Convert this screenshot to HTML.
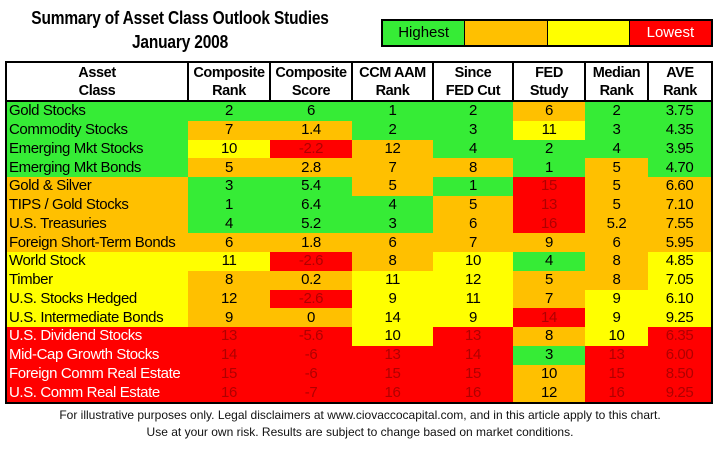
<!DOCTYPE html>
<html><head><style>
body{margin:0;width:720px;height:450px;background:#fff;font-family:"Liberation Sans",Arial,sans-serif;position:relative;overflow:hidden}
.t{position:absolute;font-weight:bold;font-size:18px;text-align:center;left:-20px;width:400px;white-space:nowrap;transform:scaleX(0.86);letter-spacing:-0.2px}
#leg{position:absolute;left:381px;top:19px;width:328px;height:24px;border:2px solid #000;display:flex}
#leg div{flex:1;font-size:15px;line-height:24px;text-align:center}
table{position:absolute;left:5px;top:61px;border-collapse:collapse;table-layout:fixed;border:2px solid #000}
td,th{padding:0;text-align:center;font-size:15px;letter-spacing:-0.4px;height:18.75px;line-height:18px}
th{background:#fff;font-weight:bold;height:37px;line-height:18px;border-left:2px solid #000;border-bottom:2px solid #000;font-size:14.5px}
th:first-child{border-left:none}
td:first-child{text-align:left;padding-left:2px}
.G{background:#36ec36}.O{background:#ffc000}.Y{background:#ffff00}.R{background:#ff0000;color:#b00000}
td.n.R{color:#fff}
.f{position:absolute;width:720px;text-align:center;font-size:12px;color:#111}
</style></head><body>
<div class="t" style="top:8px">Summary of Asset Class Outlook Studies</div>
<div class="t" style="top:32px">January 2008</div>
<div id="leg"><div style="background:#36ec36;border-right:1px solid #000">Highest</div><div style="background:#ffc000;border-right:1px solid #000"></div><div style="background:#ffff00;border-right:1px solid #000"></div><div style="background:#ff0000;color:#fff">Lowest</div></div>
<table>
<colgroup><col style="width:182px"><col style="width:82px"><col style="width:82px"><col style="width:81px"><col style="width:80px"><col style="width:72px"><col style="width:63px"><col style="width:64px"></colgroup>
<tr><th>Asset<br>Class</th><th>Composite<br>Rank</th><th>Composite<br>Score</th><th>CCM AAM<br>Rank</th><th>Since<br>FED Cut</th><th>FED<br>Study</th><th>Median<br>Rank</th><th>AVE<br>Rank</th></tr>
<tr><td class="n G">Gold Stocks</td><td class="G">2</td><td class="G">6</td><td class="G">1</td><td class="G">2</td><td class="O">6</td><td class="G">2</td><td class="G">3.75</td></tr>
<tr><td class="n G">Commodity Stocks</td><td class="O">7</td><td class="O">1.4</td><td class="G">2</td><td class="G">3</td><td class="Y">11</td><td class="G">3</td><td class="G">4.35</td></tr>
<tr><td class="n G">Emerging Mkt Stocks</td><td class="Y">10</td><td class="R">-2.2</td><td class="O">12</td><td class="G">4</td><td class="G">2</td><td class="G">4</td><td class="G">3.95</td></tr>
<tr><td class="n G">Emerging Mkt Bonds</td><td class="O">5</td><td class="O">2.8</td><td class="O">7</td><td class="O">8</td><td class="G">1</td><td class="O">5</td><td class="G">4.70</td></tr>
<tr><td class="n O">Gold &amp; Silver</td><td class="G">3</td><td class="G">5.4</td><td class="O">5</td><td class="G">1</td><td class="R">15</td><td class="O">5</td><td class="O">6.60</td></tr>
<tr><td class="n O">TIPS / Gold Stocks</td><td class="G">1</td><td class="G">6.4</td><td class="G">4</td><td class="O">5</td><td class="R">13</td><td class="O">5</td><td class="O">7.10</td></tr>
<tr><td class="n O">U.S. Treasuries</td><td class="G">4</td><td class="G">5.2</td><td class="G">3</td><td class="O">6</td><td class="R">16</td><td class="O">5.2</td><td class="O">7.55</td></tr>
<tr><td class="n O">Foreign Short-Term Bonds</td><td class="O">6</td><td class="O">1.8</td><td class="O">6</td><td class="O">7</td><td class="O">9</td><td class="O">6</td><td class="O">5.95</td></tr>
<tr><td class="n Y">World Stock</td><td class="Y">11</td><td class="R">-2.6</td><td class="O">8</td><td class="Y">10</td><td class="G">4</td><td class="O">8</td><td class="Y">4.85</td></tr>
<tr><td class="n Y">Timber</td><td class="O">8</td><td class="O">0.2</td><td class="Y">11</td><td class="Y">12</td><td class="O">5</td><td class="O">8</td><td class="Y">7.05</td></tr>
<tr><td class="n Y">U.S. Stocks Hedged</td><td class="O">12</td><td class="R">-2.6</td><td class="Y">9</td><td class="Y">11</td><td class="O">7</td><td class="Y">9</td><td class="Y">6.10</td></tr>
<tr><td class="n Y">U.S. Intermediate Bonds</td><td class="O">9</td><td class="O">0</td><td class="Y">14</td><td class="Y">9</td><td class="R">14</td><td class="Y">9</td><td class="Y">9.25</td></tr>
<tr><td class="n R">U.S. Dividend Stocks</td><td class="R">13</td><td class="R">-5.6</td><td class="Y">10</td><td class="R">13</td><td class="O">8</td><td class="Y">10</td><td class="R">6.35</td></tr>
<tr><td class="n R">Mid-Cap Growth Stocks</td><td class="R">14</td><td class="R">-6</td><td class="R">13</td><td class="R">14</td><td class="G">3</td><td class="R">13</td><td class="R">6.00</td></tr>
<tr><td class="n R">Foreign Comm Real Estate</td><td class="R">15</td><td class="R">-6</td><td class="R">15</td><td class="R">15</td><td class="O">10</td><td class="R">15</td><td class="R">8.50</td></tr>
<tr><td class="n R">U.S. Comm Real Estate</td><td class="R">16</td><td class="R">-7</td><td class="R">16</td><td class="R">16</td><td class="O">12</td><td class="R">16</td><td class="R">9.25</td></tr>
</table>
<div class="f" style="top:408px">For illustrative purposes only. Legal disclaimers at www.ciovaccocapital.com, and in this article apply to this chart.</div>
<div class="f" style="top:425px">Use at your own risk. Results are subject to change based on market conditions.</div>
</body></html>
